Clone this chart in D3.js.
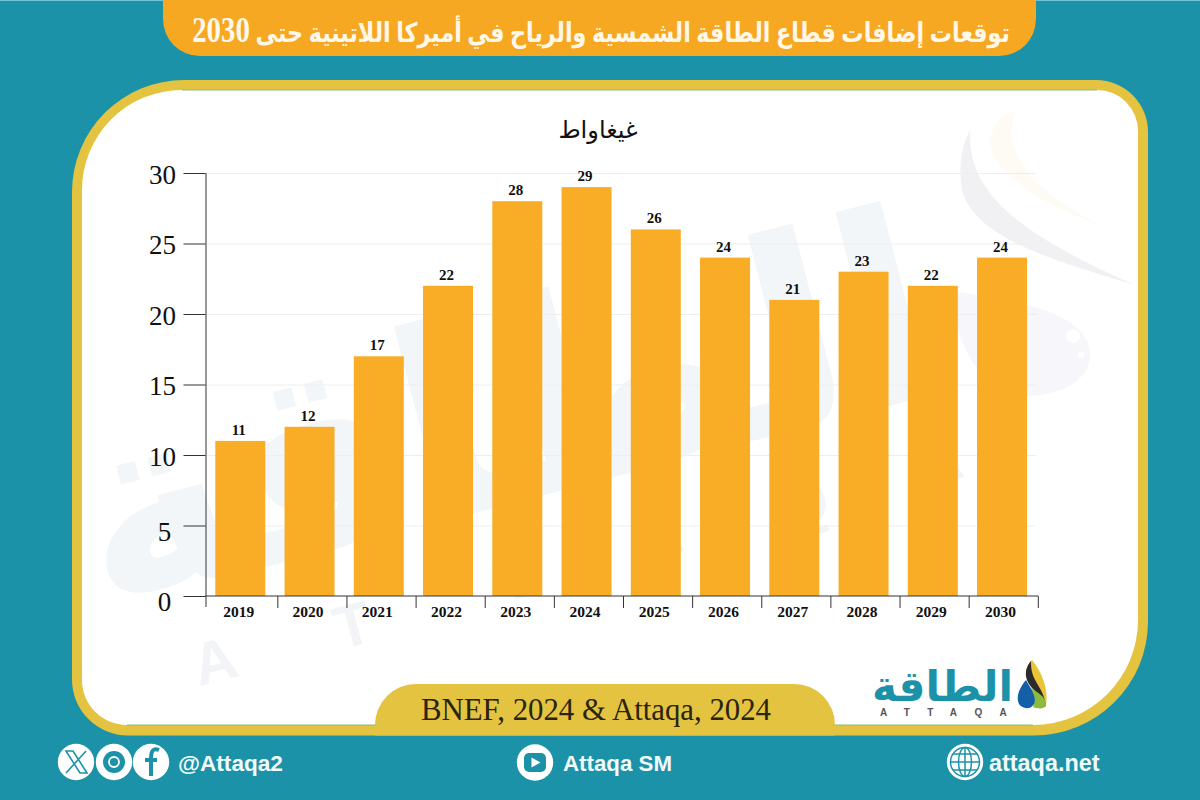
<!DOCTYPE html>
<html><head><meta charset="utf-8">
<script src="https://cdn.jsdelivr.net/npm/d3@7"></script>
<style>html,body{margin:0;padding:0;background:#1c92a8}svg{display:block}</style>
</head><body><div id="c"></div>
<script>
const years=["2019","2020","2021","2022","2023","2024","2025","2026","2027","2028","2029","2030"];
const values=[11,12,17,22,28,29,26,24,21,23,22,24];
const yTicks=[0,5,10,15,20,25,30];
const titleArabic="توقعات إضافات قطاع الطاقة الشمسية والرياح في أميركا اللاتينية حتى ";
const titleYear="2030";
const unitText="غيغاواط";
const sourceText="BNEF, 2024 & Attaqa, 2024";
const logoText="الطاقة";
const logoLatin="ATTAQA";
const socials=["@Attaqa2","Attaqa SM","attaqa.net"];

const serif="'Liberation Serif','Times New Roman',serif";
const teal="#1c92a8", gold="#e3c340", orange="#f7a823";
const svg=d3.select("#c").append("svg").attr("width",1200).attr("height",800);
svg.append("rect").attr("width",1200).attr("height",800).attr("fill",teal);
svg.append("rect").attr("width",1200).attr("height",1).attr("fill","#6fc3d2");

// title pill
svg.append("path").attr("d","M163 0H1036V19A37 37 0 0 1 999 56H200A37 37 0 0 1 163 19Z").attr("fill",orange);
const tt=svg.append("text").attr("text-anchor","middle").attr("direction","rtl")
  .attr("font-family",serif+",'DejaVu Sans'").attr("font-weight","bold").attr("font-size",27).attr("fill","#fff8ea");
tt.append("tspan").text(titleArabic);
tt.append("tspan").attr("font-family",serif).attr("font-size",35).text(titleYear);
const tScale=818/tt.node().getComputedTextLength();
tt.attr("transform",`translate(601,42) scale(${tScale},1)`);

// panel: asymmetric corners
function roundedPanel(l,t,r,b,rTL,rTR,rBR,rBL){
  return `M${l+rTL} ${t}H${r-rTR}A${rTR} ${rTR} 0 0 1 ${r} ${t+rTR}V${b-rBR}A${rBR} ${rBR} 0 0 1 ${r-rBR} ${b}H${l+rBL}A${rBL} ${rBL} 0 0 1 ${l} ${b-rBL}V${t+rTL}A${rTL} ${rTL} 0 0 1 ${l+rTL} ${t}Z`;
}
svg.append("path").attr("d",roundedPanel(72,80,1148,735.5,112,52,114,56)).attr("fill",gold);
svg.append("path").attr("d",roundedPanel(82,90,1138,725,100,41,105,45)).attr("fill","#fff");
svg.append("path").attr("d","M182 90H1097M127 725H1033").attr("stroke","#8fb77c").attr("stroke-width",1).attr("fill","none");

// watermark
const wm=svg.append("g");
const wt=wm.append("text").attr("font-family","'DejaVu Sans'").attr("font-weight","bold")
  .attr("font-size",200).attr("fill","#f2f6f9").text(logoText);
const wSize=200*880/wt.node().getComputedTextLength();
wt.attr("font-size",wSize).attr("transform","translate(100,610) rotate(-14.5)");
logoLatin.split("").forEach((ch,i)=>{
  const p=[[220,681],[358,645],[520,598],[665,556],[810,524],[945,482]][i];
  wm.append("text").attr("transform",`translate(${p[0]},${p[1]}) rotate(-15)`).attr("text-anchor","middle")
    .attr("font-family","'Liberation Sans'").attr("font-weight","bold").attr("font-size",60).attr("fill","#f3f4f8").text(ch);
});
wm.append("path").attr("d","M970 130C968 190 1010 230 1135 285C1060 262 975 240 962 190C958 165 962 145 970 130Z").attr("fill","#f1f1f3");
wm.append("path").attr("d","M1015 110C1000 150 1030 190 1100 225C1040 205 990 170 990 140C992 125 1003 115 1015 110Z").attr("fill","#fefaf4");
wm.append("path").attr("d","M945 290C1010 300 1090 310 1090 355C1090 385 1050 400 1010 395C975 385 955 330 945 290Z").attr("fill","#f7f7fb");
wm.append("circle").attr("cx",1073).attr("cy",336).attr("r",7).attr("fill","#fff");
wm.append("circle").attr("cx",1081).attr("cy",355).attr("r",3.5).attr("fill","#fff");

// scales
const x=d3.scaleBand().domain(years).range([205.67,1036.67]).paddingInner(0.278).paddingOuter(0.139);
const y=d3.scaleLinear().domain([0,30]).range([596,173]);
const tickEdges=d3.scaleLinear().domain([0,12]).range([208.7,1038.3]);

// gridlines
svg.append("g").selectAll("line").data(yTicks.slice(1)).join("line")
  .attr("x1",206).attr("x2",1036).attr("y1",d=>y(d)+.5).attr("y2",d=>y(d)+.5).attr("stroke","#eeeeee").attr("stroke-width",1);

// bars
svg.append("g").selectAll("rect").data(values).join("rect")
  .attr("x",(d,i)=>x(years[i])).attr("width",x.bandwidth()).attr("y",d=>y(d)).attr("height",d=>y(0)-y(d))
  .attr("fill","#f9aa1e").attr("fill-opacity",.96);

// value labels
svg.append("g").selectAll("text").data(values).join("text")
  .attr("x",(d,i)=>x(years[i])+x.bandwidth()/2-1.5).attr("y",d=>y(d)-6).attr("text-anchor","middle")
  .attr("font-family",serif).attr("font-weight","bold").attr("font-size",15).attr("fill","#111").text(d=>d);

// axes
const axisY=svg.append("g").attr("transform","translate(205.5,0)")
  .call(d3.axisLeft(y).tickValues(yTicks).tickSize(22).tickFormat(""));
axisY.selectAll("line,path").attr("stroke","#333").attr("stroke-width",1);
axisY.select(".domain").attr("d","M0.5,173V607");
const axisG=svg.append("g").attr("transform","translate(0,596)");
axisG.append("line").attr("x1",205).attr("x2",1038).attr("stroke","#333");
axisG.selectAll(".t").data(d3.range(1,13)).join("line").attr("class","t")
  .attr("x1",d=>tickEdges(d)).attr("x2",d=>tickEdges(d)).attr("y1",0).attr("y2",12).attr("stroke","#333");
svg.append("g").selectAll("text").data(years).join("text")
  .attr("x",d=>x(d)+x.bandwidth()/2-1.5).attr("y",617).attr("text-anchor","middle")
  .attr("font-family",serif).attr("font-weight","bold").attr("font-size",15.5).attr("fill","#111").text(d=>d);
svg.append("g").selectAll("text").data(yTicks).join("text")
  .attr("x",d=>d>5?162.5:164.5).attr("y",d=>y(d)+(d<=5?15:10.8)).attr("text-anchor","middle")
  .attr("font-family",serif).attr("font-size",27).attr("fill","#111").text(d=>d);

svg.append("text").attr("x",598).attr("y",138).attr("text-anchor","middle").attr("direction","rtl")
  .attr("font-family",serif+",'DejaVu Sans'").attr("font-size",24).attr("fill","#111").text(unitText);

// source pill
svg.append("path").attr("d","M375 735.5V725A41 41 0 0 1 416 684H794A41 41 0 0 1 835 725V735.5Z").attr("fill",gold);
svg.append("text").attr("x",596).attr("y",720).attr("text-anchor","middle")
  .attr("font-family",serif).attr("font-size",30.8).attr("fill","#2a2410").text(sourceText);

// logo
const logo=svg.append("g");
const lt=logo.append("text").attr("x",872).attr("y",701)
  .attr("font-family","'DejaVu Sans'").attr("font-weight","bold").attr("font-size",40).attr("fill",teal)
  .text(logoText);
lt.attr("font-size",40*141/lt.node().getComputedTextLength());
logo.append("text").attr("x",880).attr("y",716).attr("font-family","'Liberation Sans'").attr("font-size",10).attr("font-weight","bold")
  .attr("letter-spacing",17.3).attr("fill","#555").text(logoLatin);
logo.append("path").attr("d","M1032 660C1042 672 1049 690 1046 706C1040 692 1030 682 1026 672C1026 668 1029 663 1032 660Z").attr("fill","#e9c53a");
logo.append("path").attr("d","M1031 661C1022 672 1026 682 1034 690C1040 696 1044 702 1046 706C1044 690 1034 682 1032 672C1031 668 1031 664 1031 661Z").attr("fill","#2b2b2b");
logo.append("path").attr("d","M1028 686C1036 692 1047 696 1046 706C1043 710 1036 708 1033 707C1036 700 1034 692 1028 686Z").attr("fill","#8dbb3c");
logo.append("path").attr("d","M1026 680C1032 690 1037 698 1034 704C1031 710 1022 709 1019 704C1015 696 1021 686 1026 680Z").attr("fill","#135fa8");

// footer
[76,114,151,965].forEach(cx=>svg.append("circle").attr("cx",cx).attr("cy",762).attr("r",18.2).attr("fill","#fff"));
const ic=svg.append("g").attr("fill","none").attr("stroke",teal);
ic.append("path").attr("d","M66 751L73 751L87 773L80 773ZM86 751L66 773").attr("stroke-width",1.6);
ic.append("circle").attr("cx",114).attr("cy",762).attr("r",11).attr("fill",teal).attr("stroke","none");
ic.append("circle").attr("cx",114).attr("cy",762).attr("r",5).attr("stroke","#fff").attr("stroke-width",1.8);
ic.append("path").attr("d","M159 750C152 747 151 753 151 758V776M145 760H157").attr("stroke-width",4);
const sizes=[22.6,22.3,23.4], xs=[178,563,989];
socials.forEach((s,i)=>svg.append("text").attr("x",xs[i]).attr("y",771).attr("font-family","'Liberation Sans'").attr("font-weight","bold").attr("font-size",sizes[i]).attr("fill","#f2fbfc").text(s));
svg.append("circle").attr("cx",535).attr("cy",762.5).attr("r",18.2).attr("fill","#fff");
svg.append("rect").attr("x",524).attr("y",753).attr("width",22).attr("height",19).attr("rx",5).attr("fill",teal);
svg.append("path").attr("d","M531.5 757.5L540.5 762.5L531.5 767.5Z").attr("fill","#fff");
const gl=svg.append("g").attr("fill","none").attr("stroke",teal).attr("stroke-width",1.5);
gl.append("circle").attr("cx",965).attr("cy",762).attr("r",14.5);
gl.append("ellipse").attr("cx",965).attr("cy",762).attr("rx",6.5).attr("ry",14.5);
gl.append("path").attr("d","M950.5 762H979.5M953 754H977M953 770H977M965 747.5V776.5");
</script></body></html>
